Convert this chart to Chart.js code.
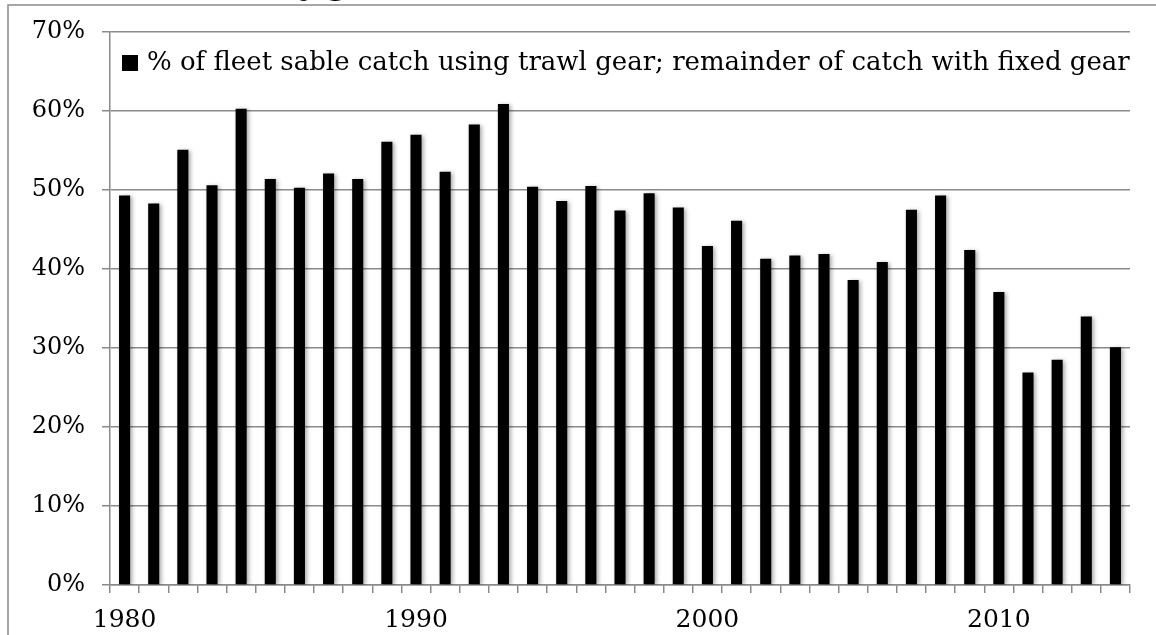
<!DOCTYPE html>
<html>
<head>
<meta charset="utf-8">
<script src="https://cdn.jsdelivr.net/npm/chart.js@4/dist/chart.umd.min.js"></script>
<style>
  html, body { margin: 0; padding: 0; background: #fff; }
  #wrap { position: relative; width: 1156px; height: 635px; }
  canvas { display: block; }
</style>
</head>
<body>
<div id="wrap"><canvas id="chart" width="1156" height="635"></canvas></div>
<script>
// Years of the series
const years = [
  1980, 1981, 1982, 1983, 1984, 1985, 1986, 1987, 1988, 1989,
  1990, 1991, 1992, 1993, 1994, 1995, 1996, 1997, 1998, 1999,
  2000, 2001, 2002, 2003, 2004, 2005, 2006, 2007, 2008, 2009,
  2010, 2011, 2012, 2013, 2014
];

// Share of fleet sablefish catch taken with trawl gear (%)
const trawlShare = [
  49.3, 48.3, 55.1, 50.6, 60.3, 51.4, 50.3, 52.1, 51.4, 56.1,
  57.0, 52.3, 58.3, 60.9, 50.4, 48.6, 50.5, 47.4, 49.6, 47.8,
  42.9, 46.1, 41.3, 41.7, 41.9, 38.6, 40.9, 47.5, 49.3, 42.4,
  37.1, 26.9, 28.5, 34.0, 30.1
];

// Years that carry a label on the horizontal axis
const labelledYears = [1980, 1990, 2000, 2010];

// Vertical axis ticks (%)
const yTicks = [0, 10, 20, 30, 40, 50, 60, 70];

const seriesLabel = '% of fleet sable catch using trawl gear; remainder of catch with fixed gear';
const titleText = 'by gear';

const FONT = '"DejaVu Serif", serif';
const GRID = '#8a8a8a';

// Frame, clipped title line, bar shadows and the in-plot legend
const decorations = {
  id: 'decorations',
  beforeDraw(chart) {
    const ctx = chart.ctx;
    ctx.save();
    ctx.fillStyle = '#fff';
    ctx.fillRect(0, 0, chart.width, chart.height);
    ctx.strokeStyle = GRID;
    ctx.lineWidth = 1.5;
    ctx.beginPath();
    ctx.moveTo(8, chart.height + 2);
    ctx.lineTo(8, 5);
    ctx.lineTo(chart.width + 2, 5);
    ctx.stroke();
    ctx.fillStyle = '#000';
    ctx.font = 'bold 30px ' + FONT;
    ctx.textAlign = 'center';
    ctx.textBaseline = 'alphabetic';
    ctx.fillText(titleText, 340, -5);
    ctx.restore();
  },
  beforeDatasetsDraw(chart) {
    const ctx = chart.ctx;
    ctx.save();
    ctx.shadowColor = 'rgba(0,0,0,0.35)';
    ctx.shadowBlur = 4;
    ctx.shadowOffsetX = 2;
    ctx.shadowOffsetY = 1;
  },
  afterDatasetsDraw(chart) {
    chart.ctx.restore();
  },
  afterDraw(chart) {
    const ctx = chart.ctx;
    const area = chart.chartArea;
    const ds = chart.data.datasets[0];
    const cy = area.top + 31;
    ctx.save();
    ctx.fillStyle = ds.backgroundColor;
    ctx.fillRect(area.left + 12, cy - 8, 16, 16);
    ctx.fillStyle = '#000';
    ctx.font = '26px ' + FONT;
    ctx.textAlign = 'left';
    ctx.textBaseline = 'middle';
    ctx.fillText(ds.label, area.left + 37, cy);
    ctx.restore();
  }
};

new Chart(document.getElementById('chart'), {
  type: 'bar',
  data: {
    labels: years,
    datasets: [{
      label: seriesLabel,
      data: trawlShare,
      backgroundColor: '#000',
      borderWidth: 0,
      barPercentage: 0.38,
      categoryPercentage: 1.0
    }]
  },
  options: {
    responsive: false,
    animation: false,
    devicePixelRatio: 1,
    layout: { padding: { left: 0, top: 32, right: 26, bottom: 0 } },
    plugins: {
      legend: { display: false },
      tooltip: { enabled: false }
    },
    scales: {
      x: {
        type: 'category',
        offset: true,
        afterFit(scale) { scale.height = 50; },
        grid: {
          offset: true,
          drawOnChartArea: false,
          drawTicks: true,
          tickLength: 8,
          color: GRID,
          lineWidth: 1.5
        },
        border: { display: true, color: GRID, width: 1.5 },
        ticks: {
          autoSkip: false,
          maxRotation: 0,
          minRotation: 0,
          padding: 12,
          color: '#000',
          font: { family: FONT, size: 25 },
          callback(value, index) {
            const y = years[index];
            return labelledYears.includes(y) ? String(y) : '';
          }
        }
      },
      y: {
        min: yTicks[0],
        max: yTicks[yTicks.length - 1],
        afterFit(scale) { scale.width = 110; },
        afterBuildTicks(scale) { scale.ticks = yTicks.map(v => ({ value: v })); },
        grid: {
          color: GRID,
          lineWidth: 1.5,
          tickLength: 8
        },
        border: { display: true, color: GRID, width: 1.5 },
        ticks: {
          padding: 17,
          color: '#000',
          font: { family: FONT, size: 24 },
          callback(v) { return v + '%'; }
        }
      }
    }
  },
  plugins: [decorations]
});
</script>
</body>
</html>
